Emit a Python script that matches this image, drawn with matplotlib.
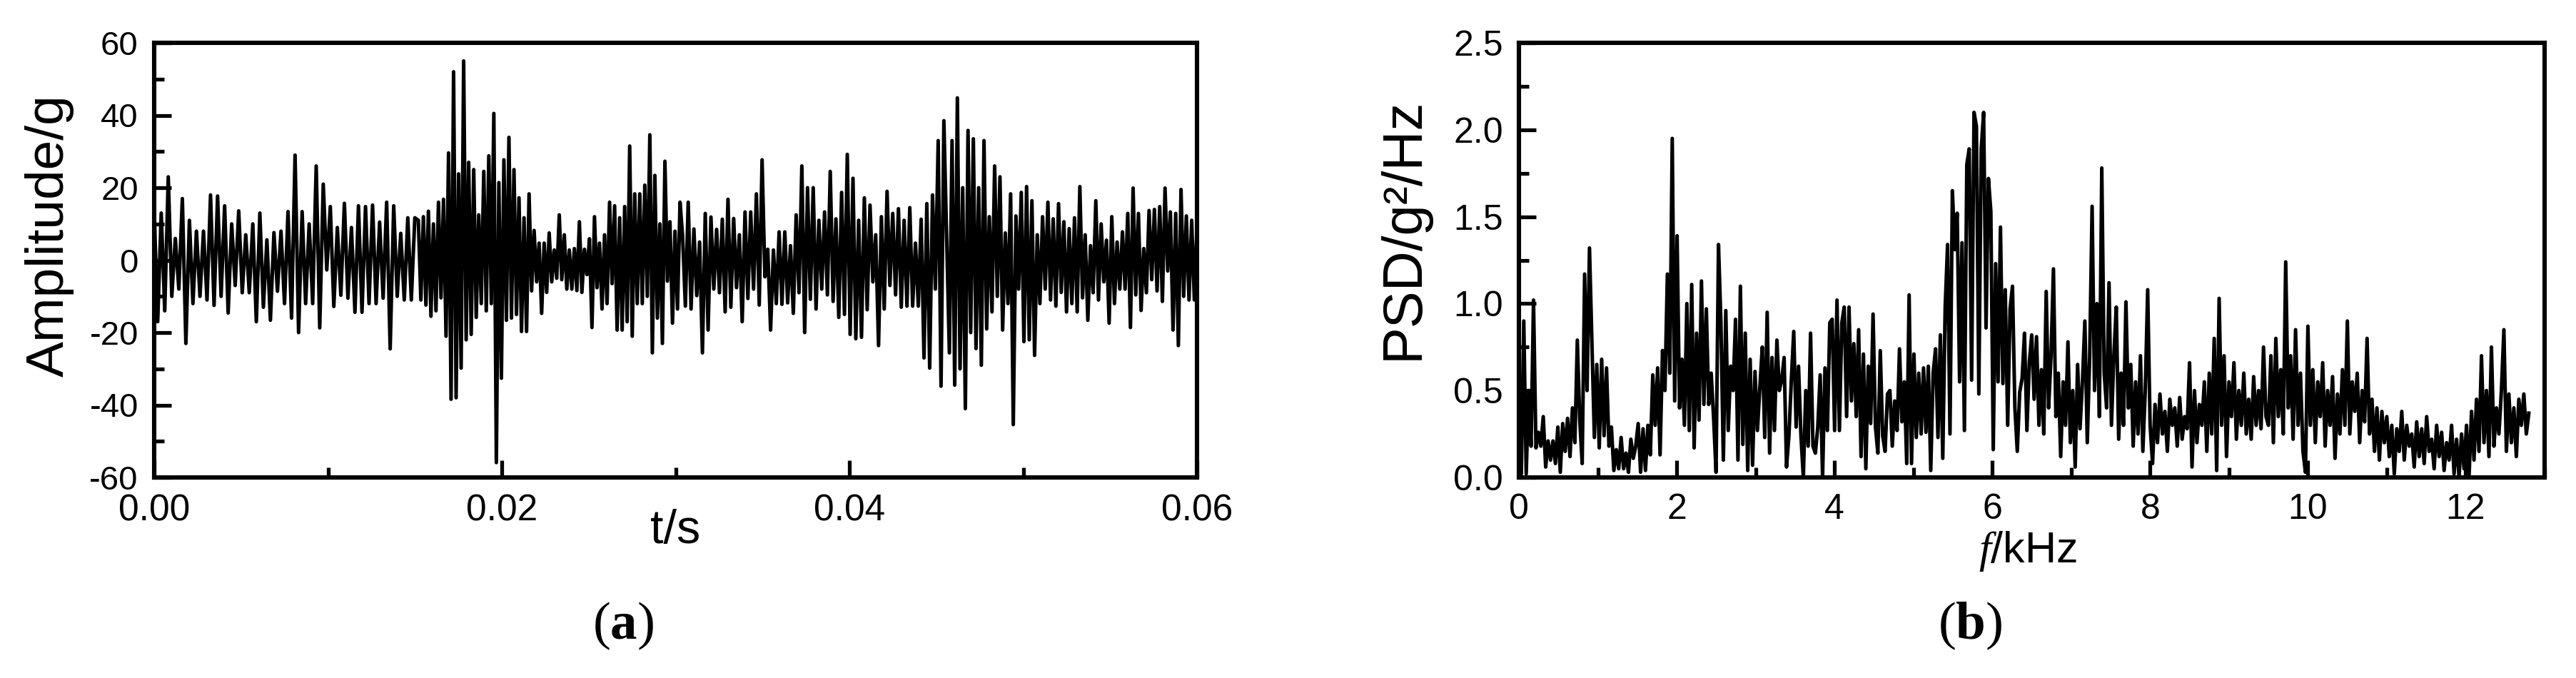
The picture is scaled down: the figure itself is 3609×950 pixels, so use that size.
import numpy as np
import matplotlib.pyplot as plt
from matplotlib.ticker import MultipleLocator, FormatStrFormatter

# ---------------------------------------------------
# (a) time signal in four time chunks
t_edges = [0.0, 0.0152, 0.0304, 0.0456, 0.06]
amp_1 = [14, -17, 13, -14, 23, -10, 6, -8, 17, -23, 11, -12, 8, -10, 8, -11,
         18, -12.5, 17.7, -10, 15, -14.6, 10, -7, 13.6, -9, 7, -9, 10, -17,
         13, -13, 5.6, -16.6, 7.6, -8.6, 8, -12, 13.4, -16, 29, -20, 13.4,
         -12, 10, -12, 26, -18.7, 21, -2.7, 14.8, -12.8, 9, -9.7, 15.7,
         -10.5, 9, -14.4, 15, -14.4, 14.8, -12, 15.2, -12, 10.5, -10.5, 16,
         -24.5, 15, -10, 7.4, -11, 11.7, -11, 11.7]
amp_2 = [11, -11, 12, -12.4, 13.5, -15.5, 10, -14, 16, -10.4, 16.8, -21, 29.6,
         -38.4, 52, -38, 23.8, -29.8, 55, -22, 27, -20.5, 25, -15.8, 12.5,
         -12, 24.5, -14, 28.8, -12, 40.5, -55.9, 21.4, -32.6, 27.7, -16.6,
         33.9, -16, 25, -15, 17.2, -19.7, 11.7, -19.7, 18.3, -8.5, 8.2, -6,
         4.7, -14.7, 4.7, -8.9, 7.5, -6, 2.8, -5, 12.5, -5.4, 7, -8, 2.8, -8,
         3.2, -8.4, 10.6, -8.9, 3, -4, 5.9, -18.6, 12, -7.6, 4.7, -13.5, 7,
         -12, 16, -6.5, 15, -19.3, 11.7, -19.3, 14.8, -17, 31.5, -21, 18.3,
         -12, 18.3, -12, 20.7, -10, 34.6, -25.6, 23.4, -16, 10, -23, 27.3,
         -5.8, 10.6, -17.4, 8, -13.5, 16]
amp_3 = [7, -12.7, 16, -13.5, 8.6, -9.8, 5, -25.6, 12.9, -19.3, 11.9, -8, 8.5,
         -9, 11.3, -14.3, 16.8, -13, 11.5, -7.6, 7, -17, 13.3, -10.6, 13.3,
         -8, 18.3, -12.4, 27.7, -4.6, 3, -19.3, 2.8, -12, 7.8, -12.2, 7.8,
         -11.8, 4, -14.7, 12.5, -9, 26, -20, 20, -10.8, 20, -13.5, 11, -8,
         13.3, -9.6, 24.5, -11.4, 11.4, -15.8, 18.7, -15, 29.2, -20.5, 22.6,
         -21.7, 11, -21.3, 17.2, -13.7, 15.2, -6, 7, -23.6, 12, -13.5, 19, -7,
         12.9, -9.6, 14.2, -13, 11, -12.7, 14.5, -12.7, 4.7, -12.7, 11.3, -27,
         15.6, -29.8, 18, -8, 33, -34.8, 38.5]
amp_4 = [5.5, -25.6, 33, -34.5, 44.8, -30, 20, -41, 35.8, -20, 33.5, -24.4, 20,
         -29, 33, -19, 12, -14.3, 26, -10, 23, -19.3, 7.5, -12, 18.3, -45.4,
         12.2, -8, 18.7, -22.5, 20.3, -22, 16.4, -26.3, 7, -12, 12, -8, 16,
         -11, 11.4, -12.7, 15.6, -8.9, 10.6, -14.3, 8.7, -12, 11.7, -14.3,
         20.3, -10.4, 7, -16.6, 4, -9, 16.4, -11, 10, -6, 5.5, -17.4, 12, -12,
         5, -8, 7.8, -8, 12.9, -18.6, 19.9, -9.6, 12.9, -13.9, 3.2, -9, 13.7,
         -5.4, 14, -8.5, 14.8, -11.4, 19.9, -3, 13.3, -19.3, 12.9, -23.6, 19.5,
         -10, 12.2, -11, 11, -11, 9.4]

# ---------------------------------------------------
# (b) PSD in frequency chunks (kHz)
f_edges = [0.0, 3.27, 6.53, 8.0, 9.5, 11.0, 12.8]
psd_1 = [0.27, 0.02, 0.9, 0.02, 0.5, 0.18, 1.02, 0.17, 0.26, 0.18, 0.35, 0.06,
         0.21, 0.1, 0.21, 0.08, 0.29, 0.03, 0.31, 0.15, 0.34, 0.12, 0.4, 0.2,
         0.79, 0.33, 0.08, 1.17, 0.5, 1.32, 0.78, 0.23, 0.65, 0.17, 0.68, 0.24,
         0.63, 0.18, 0.29, 0.04, 0.16, 0.05, 0.23, 0.05, 0.14, 0.03, 0.22,
         0.11, 0.18, 0.31, 0.03, 0.28, 0.04, 0.3, 0.13, 0.59, 0.3, 0.63, 0.13,
         0.73, 0.5, 1.17, 0.6, 1.95, 0.44, 1.39, 0.4, 0.68, 0.3, 1.0, 0.27,
         1.11, 0.17, 0.83, 0.33, 1.13, 0.42, 0.97, 0.42, 0.6, 0.34, 0.03, 1.34,
         0.89, 0.1, 0.96, 0.27, 0.64, 0.5, 0.91, 0.1, 1.1, 0.19, 0.83, 0.04,
         0.68, 0.07, 0.61, 0.27, 0.52, 0.75, 0.23, 0.95, 0.14, 0.69, 0.27]
psd_2 = [0.79, 0.5, 0.56, 0.69, 0.06, 0.24, 0.56, 0.84, 0.29, 0.64, 0.24, 0.0,
         0.5, 0.18, 0.83, 0.18, 0.14, 0.29, 0.59, 0.0, 0.63, 0.27, 0.89, 0.91,
         0.27, 1.02, 0.27, 0.89, 0.98, 0.35, 0.98, 0.44, 0.77, 0.35, 0.85,
         0.12, 0.71, 0.05, 0.64, 0.31, 0.94, 0.29, 0.14, 0.73, 0.24, 0.15,
         0.48, 0.5, 0.18, 0.44, 0.27, 0.74, 0.32, 0.55, 0.08, 1.05, 0.08, 0.71,
         0.23, 0.6, 0.25, 0.63, 0.26, 0.64, 0.04, 0.6, 0.74, 0.23, 0.82, 0.11,
         0.98, 1.34, 0.25, 1.65, 1.31, 1.52, 0.55, 1.35, 0.27, 1.8, 1.89, 0.56,
         2.1, 2.02, 0.48, 1.89, 2.1, 0.86, 1.72, 1.53, 0.16, 1.23, 0.55, 1.44,
         0.54, 1.08, 0.3, 0.97, 1.1, 0.4, 0.15, 0.49, 0.57, 0.83, 0.27, 0.66,
         0.82]
psd_3 = [0.45, 0.81, 0.3, 0.62, 0.25, 1.07, 0.4, 0.7, 1.2, 0.35, 0.6, 0.12,
         0.55, 0.3, 0.78, 0.2, 0.5, 0.06, 0.65, 0.28, 0.55, 0.9, 0.2, 0.7,
         1.56, 0.5, 1.0, 0.35, 1.78, 0.6, 0.4, 1.12, 0.3, 0.7, 0.98, 0.22, 0.6,
         0.3, 1.01, 0.4, 0.65, 0.18, 0.55, 0.25, 0.7, 0.15, 0.5, 1.08]
psd_4 = [0.3, 0.08, 0.42, 0.2, 0.48, 0.25, 0.38, 0.15, 0.45, 0.3, 0.4, 0.18,
         0.46, 0.22, 0.35, 0.28, 0.66, 0.06, 0.5, 0.2, 0.42, 0.3, 0.55, 0.15,
         0.6, 0.25, 0.8, 0.04, 1.03, 0.3, 0.7, 0.12, 0.55, 0.35, 0.66, 0.22,
         0.5, 0.3, 0.6, 0.25, 0.45, 0.22, 0.58, 0.3, 0.5, 0.28, 0.75, 0.35]
psd_5 = [0.3, 0.7, 0.2, 0.8, 0.35, 0.62, 0.25, 1.24, 0.4, 0.7, 0.22, 0.85, 0.3,
         0.6, 0.15, 0.03, 0.87, 0.3, 0.62, 0.2, 0.55, 0.35, 0.66, 0.18, 0.5,
         0.3, 0.58, 0.11, 0.48, 0.25, 0.62, 0.3, 0.9, 0.25, 0.55, 0.38, 0.6,
         0.2, 0.5, 0.32, 0.8, 0.25, 0.45, 0.15, 0.4, 0.1, 0.38, 0.2]
psd_6 = [0.35, 0.12, 0.3, 0.02, 0.28, 0.15, 0.38, 0.1, 0.3, 0.18, 0.25, 0.06,
         0.32, 0.12, 0.28, 0.08, 0.35, 0.15, 0.22, 0.05, 0.3, 0.12, 0.26, 0.04,
         0.2, 0.1, 0.3, 0.02, 0.22, 0.0, 0.25, 0.05, 0.3, 0.0, 0.38, 0.1, 0.45,
         0.15, 0.7, 0.2, 0.5, 0.12, 0.75, 0.18, 0.4, 0.25, 0.5, 0.85, 0.15,
         0.48, 0.2, 0.4, 0.12, 0.45, 0.3, 0.48, 0.25, 0.37]


def stitch(edges, chunks):
    # spread each chunk evenly over its own span
    xs = []
    for i, c in enumerate(chunks):
        last = (i == len(chunks) - 1)
        xs.append(np.linspace(edges[i], edges[i + 1], len(c), endpoint=last))
    return np.concatenate(xs), np.concatenate([np.asarray(c, float) for c in chunks])


t, amp = stitch(t_edges, [amp_1, amp_2, amp_3, amp_4])
f, psd = stitch(f_edges, [psd_1, psd_2, psd_3, psd_4, psd_5, psd_6])

# ---------------------------------------------------
plt.rcParams['font.family'] = ['Liberation Sans', 'DejaVu Sans']
plt.rcParams['axes.unicode_minus'] = False
plt.rcParams['mathtext.fontset'] = 'custom'
plt.rcParams['mathtext.rm'] = 'Liberation Serif'
plt.rcParams['mathtext.it'] = 'Liberation Serif:italic'
plt.rcParams['mathtext.bf'] = 'Liberation Serif:bold'

narrow = ['Liberation Sans Narrow', 'Liberation Sans', 'DejaVu Sans']
W, H = 3609, 950
fig = plt.figure(figsize=(W / 100, H / 100), dpi=100)
ax1 = fig.add_axes([216 / W, 1 - 669 / H, (1677 - 216) / W, (669 - 60) / H])
ax2 = fig.add_axes([2128 / W, 1 - 669 / H, (3565 - 2128) / W, (669 - 60) / H])


def style(ax):
    for s in ax.spines.values():
        s.set_linewidth(4.4)
    ax.tick_params(which='both', direction='in', top=False, right=False, width=3.8, pad=16)
    ax.tick_params(which='major', length=17)
    ax.tick_params(which='minor', length=10)


# (a)
ax1.plot(t, amp, color='black', lw=3.6)
ax1.set_xlim(0, 0.06)
ax1.set_ylim(-60, 60)
ax1.xaxis.set_major_locator(MultipleLocator(0.02))
ax1.xaxis.set_minor_locator(MultipleLocator(0.01))
ax1.xaxis.set_major_formatter(FormatStrFormatter('%.2f'))
ax1.yaxis.set_major_locator(MultipleLocator(20))
ax1.yaxis.set_minor_locator(MultipleLocator(10))
ax1.yaxis.set_major_formatter(FormatStrFormatter('%d'))
style(ax1)
for lbl in ax1.get_xticklabels():
    lbl.set_fontfamily(narrow); lbl.set_fontsize(37)
for lbl in ax1.get_yticklabels():
    lbl.set_fontfamily(narrow); lbl.set_fontsize(34)
ax1.set_ylabel('Amplitude/g', fontsize=54, va='center')
ax1.yaxis.set_label_coords(-0.1006, 0.557)
ax1.set_xlabel('t/s', fontsize=48, va='center')
ax1.xaxis.set_label_coords(0.5, -0.123)

# (b)
ax2.plot(f, psd, color='black', lw=3.6)
ax2.set_xlim(0, 13)
ax2.set_ylim(0, 2.5)
ax2.xaxis.set_major_locator(MultipleLocator(2))
ax2.xaxis.set_minor_locator(MultipleLocator(1))
ax2.xaxis.set_major_formatter(FormatStrFormatter('%d'))
ax2.yaxis.set_major_locator(MultipleLocator(0.5))
ax2.yaxis.set_minor_locator(MultipleLocator(0.25))
ax2.yaxis.set_major_formatter(FormatStrFormatter('%.1f'))
style(ax2)
for lbl in ax2.get_xticklabels() + ax2.get_yticklabels():
    lbl.set_fontfamily(narrow); lbl.set_fontsize(36)
ax2.set_ylabel('PSD/g²/Hz', fontsize=56, va='center')
ax2.yaxis.set_label_coords(-0.1127, 0.573)
ax2.set_xlabel(r'$\mathit{f}$/kHz', fontsize=44, va='center')
ax2.xaxis.set_label_coords(0.496, -0.17)

# panel captions
fig.text(873 / W, 1 - 877 / H, r'($\mathbf{a}$)', family='Liberation Serif',
         fontsize=54, ha='center', va='center')
fig.text(2760 / W, 1 - 877 / H, r'($\mathbf{b}$)', family='Liberation Serif',
         fontsize=54, ha='center', va='center')

fig.savefig('out.png', dpi=100)
